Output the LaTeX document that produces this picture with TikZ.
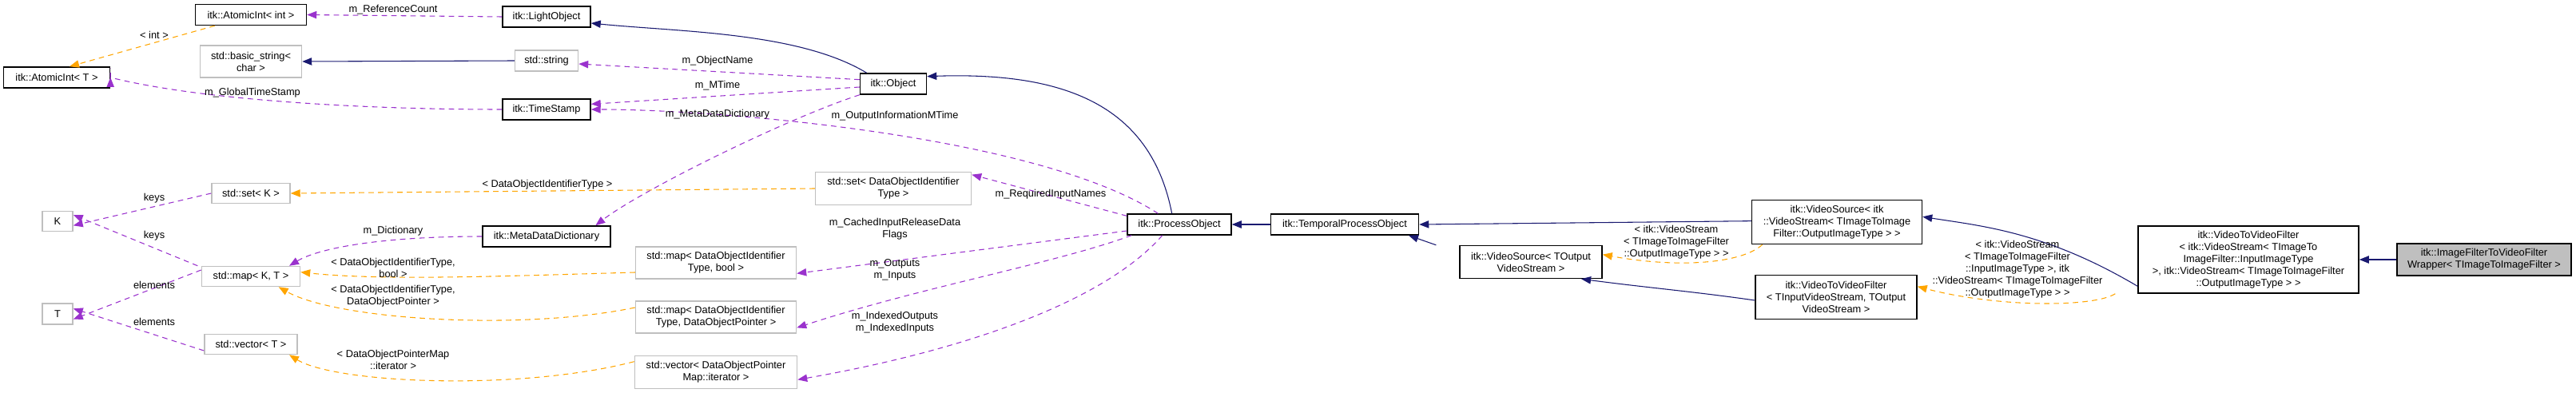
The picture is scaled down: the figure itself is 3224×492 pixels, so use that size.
\documentclass[tikz,border=0pt]{standalone}
\usepackage{fontspec}
\setmainfont{Liberation Sans}
\usetikzlibrary{arrows.meta}
\definecolor{inh}{HTML}{191970}
\definecolor{use}{HTML}{9A32CD}
\definecolor{tpl}{HTML}{FFA500}
\begin{document}
\begin{tikzpicture}[x=0.75pt,y=-0.75pt,
  font=\fontsize{9.6pt}{11.25pt}\selectfont,
  box/.style={draw=black,line width=1.1pt,fill=white,inner sep=0pt,align=center},
  gbox/.style={draw=black!25,line width=1.1pt,fill=white,inner sep=0pt,align=center},
  lbl/.style={inner sep=0pt,align=center},
  sz/.style 2 args={minimum width=#1*0.75pt,minimum height=#2*0.75pt},
  ar/.style={-{Triangle[length=9pt,width=7pt]}},
  inhe/.style={ar,draw=inh,line width=0.8pt},
  usee/.style={ar,draw=use,line width=0.8pt,dash pattern=on 5pt off 4pt},
  tple/.style={ar,draw=tpl,line width=0.8pt,dash pattern=on 5pt off 4pt}]
\useasboundingbox (0,0) rectangle (3224,492);
% nodes
\node[box,sz={139}{26}] (aint) at (314,18.5) {itk::AtomicInt< int >};
\node[box,sz={110}{26}] (light) at (684,21) {itk::LightObject};
\node[gbox,sz={127}{40}] (bstr) at (314,77) {std::basic\_string<\\char >};
\node[gbox,sz={79}{26}] (str) at (684,76) {std::string};
\node[box,sz={133}{26}] (aintT) at (71,97) {itk::AtomicInt< T >};
\node[box,sz={110}{26}] (ts) at (684,137) {itk::TimeStamp};
\node[gbox,sz={98}{25}] (setK) at (314,242) {std::set< K >};
\node[gbox,sz={38}{25}] (K) at (72,277) {K};
\node[box,sz={160}{26}] (mdd) at (684,296) {itk::MetaDataDictionary};
\node[gbox,sz={123}{25}] (mapKT) at (314,346) {std::map< K, T >};
\node[gbox,sz={38}{26}] (T) at (72,393) {T};
\node[gbox,sz={116}{25}] (vecT) at (314,431) {std::vector< T >};
\node[box,sz={83}{26}] (obj) at (1118,105) {itk::Object};
\node[gbox,sz={195}{41}] (setD) at (1118,236) {std::set< DataObjectIdentifier\\Type >};
\node[gbox,sz={201}{40}] (mapDb) at (896,329) {std::map< DataObjectIdentifier\\Type, bool >};
\node[gbox,sz={201}{40}] (mapDp) at (896,397) {std::map< DataObjectIdentifier\\Type, DataObjectPointer >};
\node[gbox,sz={203}{41}] (vecD) at (896,466) {std::vector< DataObjectPointer\\Map::iterator >};
\node[box,sz={130}{26}] (po) at (1476,281) {itk::ProcessObject};
\node[box,sz={185}{26}] (tpo) at (1683,281) {itk::TemporalProcessObject};
\node[box,sz={178}{41}] (vsT) at (1916,328) {itk::VideoSource< TOutput\\VideoStream >};
\node[box,sz={213}{55}] (vsI) at (2299,278) {itk::VideoSource< itk\\::VideoStream< TImageToImage\\Filter::OutputImageType > >};
\node[box,sz={202}{55}] (vvT) at (2298,372) {itk::VideoToVideoFilter\\< TInputVideoStream, TOutput\\VideoStream >};
\node[box,sz={276}{84}] (vvI) at (2814,325) {itk::VideoToVideoFilter\\< itk::VideoStream< TImageTo\\ImageFilter::InputImageType\\ >, itk::VideoStream< TImageToImageFilter\\::OutputImageType > >};
\node[box,fill=black!25,sz={218}{40}] (wrap) at (3109,325) {itk::ImageFilterToVideoFilter\\Wrapper< TImageToImageFilter >};
% coordinates
% edges
\draw[usee] (light.west) -- (aint.east);
\draw[tple] (aint.south west) ++(25,0) coordinate (a1) (a1) -- ([xshift=12pt]aintT.north);
\draw[inhe] (str.west) -- (bstr.east);
\draw[usee] (ts.west) .. controls (450,137) and (250,125) .. (aintT.north east |- aintT.east) -- ++(0,0);
\draw[inhe] ([xshift=-25]obj.north) .. controls (1000,40) and (850,40) .. ([yshift=-6]light.east);
\draw[usee] ([yshift=4]obj.west) -- ([yshift=-3]str.east);
\draw[usee] ([yshift=-3]obj.west) -- ([yshift=5]ts.east);
\draw[usee] (obj.south west) .. controls (980,150) and (800,240) .. ([xshift=46]mdd.north);
\draw[usee] ([xshift=-20]po.north) .. controls (1300,170) and (900,137) .. (ts.east);
\draw[inhe] ([xshift=-7]po.north) .. controls (1440,130) and (1330,90) .. ([yshift=7]obj.east);
\draw[usee] ([yshift=8]po.west) -- ([yshift=13]setD.east);
\draw[usee] ([yshift=-6]po.west) -- ([yshift=-10]mapDb.east);
\draw[usee] ([xshift=-45]po.south) .. controls (1320,330) and (1150,360) .. ([yshift=-10]mapDp.east);
\draw[usee] ([xshift=-16]po.south) .. controls (1380,380) and (1200,440) .. ([yshift=-7]vecD.east);
\draw[tple] (setD.west) -- (setK.east);
\draw[usee] (mdd.west) .. controls (480,296) and (400,310) .. ([xshift=36]mapKT.north);
\draw[tple] ([yshift=-9]mapDb.west) .. controls (650,345) and (480,352) .. ([yshift=4]mapKT.east);
\draw[tple] ([yshift=9]mapDp.west) .. controls (650,415) and (420,400) .. ([xshift=26]mapKT.south);
\draw[tple] ([yshift=10]vecD.west) .. controls (650,490) and (420,480) .. ([xshift=36]vecT.south);
\draw[usee] (setK.west) -- ([yshift=-4]K.east);
\draw[usee] ([xshift=-50]mapKT.north) -- ([yshift=6]K.east);
\draw[usee] ([yshift=6]mapKT.west) -- ([yshift=-5]T.east);
\draw[usee] ([yshift=-6]vecT.west) -- ([yshift=5]T.east);
\draw[inhe] (tpo.west) -- (po.east);
\draw[inhe] ([xshift=-89]vsT.north) -- ([xshift=60]tpo.south);
\draw[inhe] ([yshift=1]vsI.west) -- (tpo.east);
\draw[tple] ([xshift=-70]vsI.south) .. controls (2180,330) and (2100,336) .. ([yshift=7]vsT.east);
\draw[inhe] ([yshift=-3]vvT.west) .. controls (2120,365) and (2060,360) .. ([xshift=-20]vsT.south east);
\draw[inhe] ([yshift=-25]vvI.west) .. controls (2560,290) and (2480,283) .. ([yshift=5]vsI.east);
\draw[tple] ([xshift=-125]vvI.south) .. controls (2620,385) and (2500,385) .. ([yshift=10]vvT.east);
\draw[inhe] (wrap.west) -- (vvI.east);
% labels
\node[lbl] (l1) at (492,12) {m\_ReferenceCount};
\node[lbl] (l2) at (193,44) {< int >};
\node[lbl] (l3) at (316,116) {m\_GlobalTimeStamp};
\node[lbl] (l4) at (898,76) {m\_ObjectName};
\node[lbl] (l5) at (898,107) {m\_MTime};
\node[lbl] (l6) at (898,143) {m\_MetaDataDictionary};
\node[lbl] (l7) at (1120,145) {m\_OutputInformationMTime};
\node[lbl] (l8) at (1315,243) {m\_RequiredInputNames};
\node[lbl] (l9) at (1120,287) {m\_CachedInputReleaseData\\Flags};
\node[lbl] (l10) at (1120,338) {m\_Outputs\\m\_Inputs};
\node[lbl] (l11) at (1120,404) {m\_IndexedOutputs\\m\_IndexedInputs};
\node[lbl] (l12) at (685,231) {< DataObjectIdentifierType >};
\node[lbl] (l13) at (492,289) {m\_Dictionary};
\node[lbl] (l14) at (492,335) {< DataObjectIdentifierType,\\bool >};
\node[lbl] (l15) at (492,371) {< DataObjectIdentifierType,\\DataObjectPointer >};
\node[lbl] (l16) at (492,450) {< DataObjectPointerMap\\::iterator >};
\node[lbl] (l17) at (193,248) {keys};
\node[lbl] (l18) at (193,295) {keys};
\node[lbl] (l19) at (193,357) {elements};
\node[lbl] (l20) at (193,403) {elements};
\node[lbl] (l21) at (2098,303) {< itk::VideoStream\\< TImageToImageFilter\\::OutputImageType > >};
\node[lbl] (l22) at (2525,337) {< itk::VideoStream\\< TImageToImageFilter\\::InputImageType >, itk\\::VideoStream< TImageToImageFilter\\::OutputImageType > >};
\end{tikzpicture}
\end{document}
